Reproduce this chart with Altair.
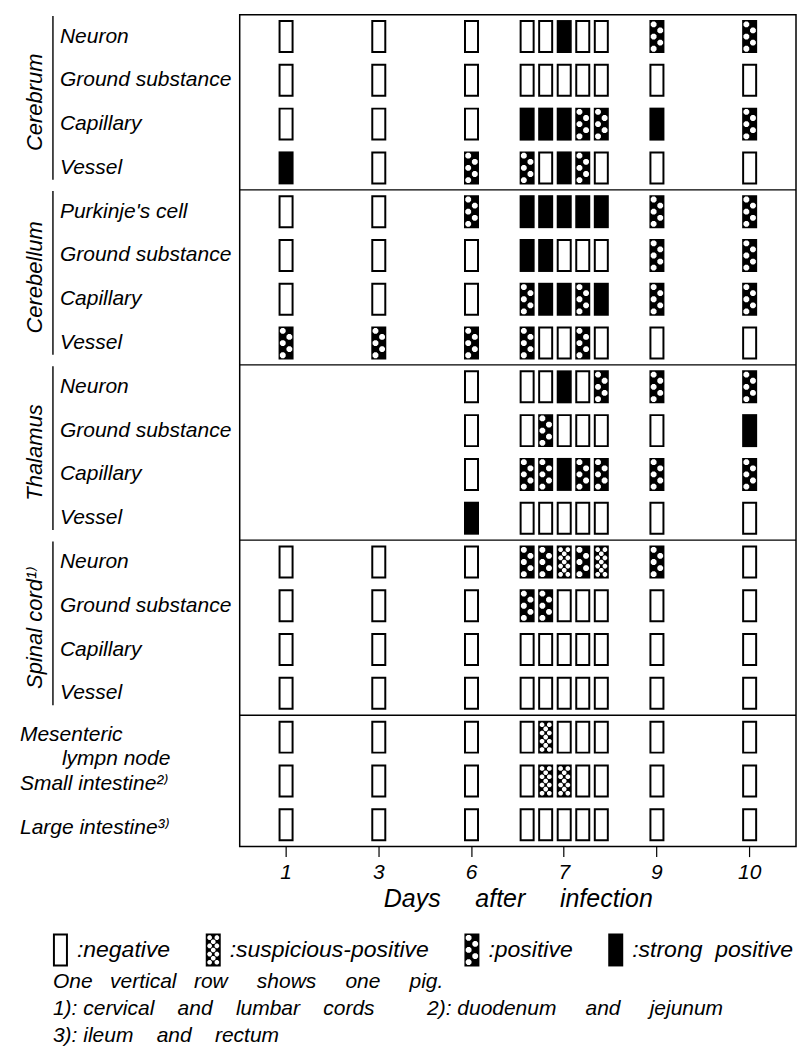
import math
import altair as alt
import pandas as pd

FONT = "Liberation Sans, Arimo, DejaVu Sans, sans-serif"
NB = "\u00a0"

# ---------------- data ----------------
days = ["1", "3", "6", "7", "9", "10"]
# one entry per pig (one vertical row of glyphs): its day and slot within that day
pig_day = ["1", "3", "6", "7", "7", "7", "7", "7", "9", "10"]
pig_slot = [2, 2, 2, 0, 1, 2, 3, 4, 2, 2]

group_names = ["Cerebrum", "Cerebellum", "Thalamus", "Spinal cord¹⁾"]
row_group = (["Cerebrum"] * 4 + ["Cerebellum"] * 4 + ["Thalamus"] * 4
             + ["Spinal cord¹⁾"] * 4 + ["Other"] * 3)
row_label = ["Neuron", "Ground substance", "Capillary", "Vessel",
             "Purkinje's cell", "Ground substance", "Capillary", "Vessel",
             "Neuron", "Ground substance", "Capillary", "Vessel",
             "Neuron", "Ground substance", "Capillary", "Vessel",
             "Mesenteric", "Small intestine²⁾", "Large intestine³⁾"]
mesenteric_cont = "lympn node"

# N negative, S suspicious-positive, P positive, X strong positive, - not examined
# columns: day1 day3 day6 | day7 (5 pigs) | day9 day10
row_status = [
    "NNN NNXNN P P",
    "NNN NNNNN N N",
    "NNN XXXPP X P",
    "XNP PNXPN N N",
    "NNP XXXXX P P",
    "NNN XXNNN P P",
    "NNN PXXPX P P",
    "PPP PNNPN N N",
    "--N NNXNP P P",
    "--N NPNNN N X",
    "--N PPXPP P P",
    "--X NNNNN N N",
    "NNN PPSPS P N",
    "NNN PPNNN N N",
    "NNN NNNNN N N",
    "NNN NNNNN N N",
    "NNN NSNNN N N",
    "NNN NSSNN N N",
    "NNN NNNNN N N",
]
status_code = {"N": "negative", "S": "suspicious-positive",
               "P": "positive", "X": "strong positive"}
status_names = ["negative", "suspicious-positive", "positive", "strong positive"]

x_title = f"Days{NB*5}after{NB*5}infection"
footnotes = [
    f"One{NB*3}vertical{NB*3}row{NB*5}shows{NB*5}one{NB*5}pig.",
    f"1):{NB}cervical{NB*4}and{NB*4}lumbar{NB*4}cords{NB*9}2):{NB}duodenum{NB*5}and{NB*5}jejunum",
    f"3):{NB}ileum{NB*4}and{NB*4}rectum",
]

# ---------------- glyph shapes (custom symbol paths) ----------------
HW = 0.4545  # half width of the glyph, half height is 1


def poly(pts):
    return "M" + "L".join(f"{x:.3f},{y:.3f}" for x, y in pts) + "Z"


def box(hw, hh, hole=False):
    pts = [(-hw, -hh), (hw, -hh), (hw, hh), (-hw, hh)]
    return poly(pts[::-1] if hole else pts)


def dot(cx, cy, r):
    pts = [(cx + r * math.cos(math.radians(22.5 + 45 * k)),
            cy + r * math.sin(math.radians(22.5 + 45 * k))) for k in range(8)]
    return poly(pts[::-1])


outer = box(HW, 1)
shape_negative = outer + box(HW - 0.12, 1 - 0.12, hole=True)
shape_strong = outer
shape_positive = outer + "".join(
    dot(-0.2 if r % 2 == 0 else 0.2, -0.74 + 0.37 * r, 0.19) for r in range(5))
shape_susp = outer + "".join(
    [dot(cx, cy, 0.15) for cx in (-0.22, 0.22) for cy in (-0.75, -0.25, 0.25, 0.75)]
    + [dot(0, cy, 0.15) for cy in (-0.5, 0, 0.5)])
shape_paths = [shape_negative, shape_susp, shape_positive, shape_strong]

# ---------------- tables ----------------
row_keys = [f"{g}|{l}" for g, l in zip(row_group, row_label)]

records = []
for key, st in zip(row_keys, row_status):
    codes = st.replace(" ", "")
    for d, s, c in zip(pig_day, pig_slot, codes):
        if c == "-":
            continue
        records.append({"key": key, "day": d, "slot": s, "status": status_code[c]})
cells = pd.DataFrame(records)

labels = pd.DataFrame({"key": row_keys, "label": row_label, "group": row_group})
brain_labels = labels[labels["group"] != "Other"]
other_labels = labels[labels["group"] == "Other"]

grp_rows = []
for g in group_names:
    ks = [k for k, gg in zip(row_keys, row_group) if gg == g]
    grp_rows.append({"group": g, "first": ks[0], "mid": ks[1], "last": ks[-1]})
grp = pd.DataFrame(grp_rows)

sep_keys = []
prev = None
for k, g in zip(row_keys, row_group):
    if prev is not None and g != prev:
        sep_keys.append(k)
    prev = g
seps = pd.DataFrame({"key": sep_keys})

W, H = 557, 833
yscale = alt.Scale(type="band", domain=row_keys, paddingInner=0, paddingOuter=0)
text_style = dict(font=FONT, fontStyle="italic", color="black")

glyphs = alt.Chart(cells).mark_point(
    filled=True, size=1089, opacity=1, color="black", strokeWidth=0
).encode(
    x=alt.X("day:N", title=x_title,
            scale=alt.Scale(type="band", domain=days, paddingInner=0, paddingOuter=0),
            axis=alt.Axis(labelAngle=0, domain=False, grid=False, tickSize=10,
                          tickColor="black", tickWidth=1.2, labelPadding=5,
                          labelFont=FONT, labelFontStyle="italic", labelFontSize=21,
                          labelColor="black", titleFont=FONT, titleFontStyle="italic",
                          titleFontWeight="normal", titleFontSize=25, titleColor="black",
                          titlePadding=4)),
    xOffset=alt.XOffset("slot:O", scale=alt.Scale(type="band", domain=[0, 1, 2, 3, 4],
                                                   paddingInner=0, paddingOuter=0)),
    y=alt.Y("key:N", scale=yscale, axis=None),
    shape=alt.Shape("status:N",
                    scale=alt.Scale(domain=status_names, range=shape_paths),
                    legend=alt.Legend(title=None, orient="none", legendX=-196, legendY=920,
                                      direction="horizontal", symbolSize=1089,
                                      symbolFillColor="black", symbolStrokeWidth=0,
                                      symbolOpacity=1,
                                      labelExpr="':' + replace(datum.label, ' ', '\u00a0\u00a0')",
                                      labelFont=FONT, labelFontStyle="italic",
                                      labelFontSize=23, labelColor="black",
                                      labelOffset=0, labelLimit=400, columnPadding=26,
                                      padding=0)),
)

row_text = alt.Chart(brain_labels).mark_text(
    align="left", baseline="middle", fontSize=21, **text_style
).encode(x=alt.value(-180), y=alt.Y("key:N", scale=yscale, axis=None), text="label:N")

mes_text = alt.Chart(other_labels.iloc[[0]]).mark_text(
    align="left", baseline="middle", fontSize=21, dy=-2, **text_style
).encode(x=alt.value(-220), y=alt.Y("key:N", scale=yscale, axis=None), text="label:N")

cont_text = alt.Chart(other_labels.iloc[[0]]).mark_text(
    align="left", baseline="middle", fontSize=21, dy=22, **text_style
).encode(x=alt.value(-178), y=alt.Y("key:N", scale=yscale, axis=None),
         text=alt.value(mesenteric_cont))

intest_text = alt.Chart(other_labels.iloc[1:]).mark_text(
    align="left", baseline="middle", fontSize=21, dy=3, **text_style
).encode(x=alt.value(-220), y=alt.Y("key:N", scale=yscale, axis=None), text="label:N")

group_text = alt.Chart(grp).mark_text(
    align="center", baseline="middle", angle=270, fontSize=22, **text_style
).encode(x=alt.value(-205), y=alt.Y("mid:N", bandPosition=1, scale=yscale, axis=None),
         text="group:N")

brackets = alt.Chart(grp).mark_rule(color="black", strokeWidth=1.4).encode(
    x=alt.value(-187),
    y=alt.Y("first:N", bandPosition=0.03, scale=yscale, axis=None),
    y2=alt.Y2("last:N", bandPosition=0.77),
)

separators = alt.Chart(seps).mark_rule(color="black", strokeWidth=1.3).encode(
    x=alt.value(0), x2=alt.value(W),
    y=alt.Y("key:N", bandPosition=0, scale=yscale, axis=None),
)

notes = alt.Chart(pd.DataFrame({"t": ["\n".join(footnotes)]})).mark_text(
    align="left", baseline="alphabetic", fontSize=21, lineBreak="\n", lineHeight=27,
    **text_style
).encode(x=alt.value(-187), y=alt.value(975), text="t:N")

chart = alt.layer(
    separators, brackets, group_text, row_text, mes_text, cont_text, intest_text,
    glyphs, notes
).properties(
    width=W, height=H, background="white",
    padding={"left": 12, "top": 6, "right": 5, "bottom": 5},
).configure_view(
    stroke="black", strokeWidth=1.5
)

chart.save("out.html", embed_options={"renderer": "svg", "actions": False})
